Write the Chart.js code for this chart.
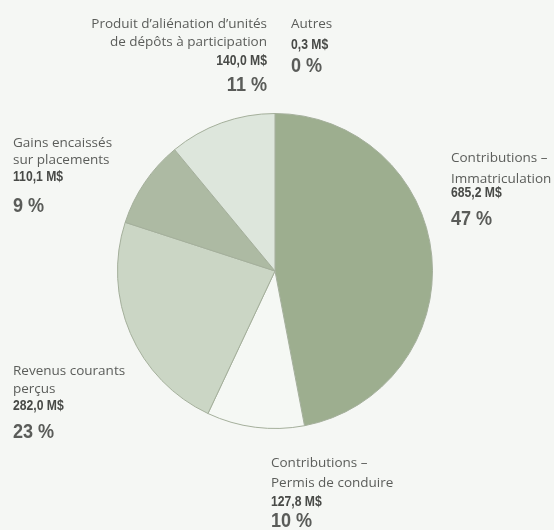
<!DOCTYPE html>
<html><head><meta charset="utf-8">
<script src="https://cdn.jsdelivr.net/npm/chart.js@4.4.1/dist/chart.umd.min.js"></script>
<style>html,body{margin:0;padding:0;background:#f5f7f4;}#wrap{width:554px;height:530px;position:relative;}</style>
</head><body><div id="wrap"><canvas id="c" width="554" height="530"></canvas></div>
<script>
const categories = ["Contributions – Immatriculation","Contributions – Permis de conduire","Revenus courants perçus","Gains encaissés sur placements","Produit d'aliénation d'unités de dépôts à participation","Autres"];
const percents = [47, 10, 23, 9, 11, 0];
const amounts = ["685,2 M$","127,8 M$","282,0 M$","110,1 M$","140,0 M$","0,3 M$"];
const percentLabels = ["47 %","10 %","23 %","9 %","11 %","0 %"];
const colors = ["#9dae8f","#f5f8f4","#cbd6c5","#adbaa3","#dde6dc","#dde6dc"];

const labelBlocks = [
  {i:0, x:451, align:"left", lines:["Contributions –","Immatriculation"], base:[162,183], amt:197, pct:225},
  {i:1, x:271, align:"left", lines:["Contributions –","Permis de conduire"], base:[467,487], amt:506, pct:527},
  {i:2, x:13, align:"left", lines:["Revenus courants","perçus"], base:[375,393], amt:410, pct:438},
  {i:3, x:13, align:"left", lines:["Gains encaissés","sur placements"], base:[147,164], amt:181, pct:212},
  {i:4, x:267, align:"right", lines:["Produit d’aliénation d’unités","de dépôts à participation"], base:[28,46], amt:65, pct:91},
  {i:5, x:291, align:"left", lines:["Autres"], base:[28], amt:49, pct:72}
];

function narrowText(ctx, t, x, y, sx){
  ctx.save();
  ctx.translate(x, y);
  ctx.scale(sx, 1);
  ctx.fillText(t, 0, 0);
  ctx.restore();
}

const textPlugin = {
  id:'texts',
  afterDraw(chart){
    const ctx = chart.ctx;
    ctx.save();
    labelBlocks.forEach(b=>{
      ctx.textAlign = b.align;
      ctx.textBaseline = 'alphabetic';
      ctx.fillStyle = '#5b5d5a';
      ctx.font = '13.5px "Open Sans", "Noto Sans", sans-serif';
      b.lines.forEach((t,k)=>ctx.fillText(t, b.x, b.base[k]));
      ctx.fillStyle = '#484a47';
      ctx.font = 'bold 14.5px "Liberation Sans", sans-serif';
      narrowText(ctx, amounts[b.i], b.x, b.amt, 0.84);
      ctx.fillStyle = '#5a5c59';
      ctx.font = 'bold 21px "Liberation Sans", sans-serif';
      narrowText(ctx, percentLabels[b.i], b.x, b.pct, 0.86);
    });
    ctx.restore();
  }
};

new Chart(document.getElementById('c'), {
  type:'pie',
  data:{labels:categories, datasets:[{data:percents, backgroundColor:colors, borderColor:'#a4af9b', borderWidth:1}]},
  options:{
    responsive:false, animation:false,
    layout:{padding:{left:117,right:121,top:113,bottom:101}},
    plugins:{legend:{display:false}, tooltip:{enabled:false}}
  },
  plugins:[textPlugin]
});
</script></body></html>
